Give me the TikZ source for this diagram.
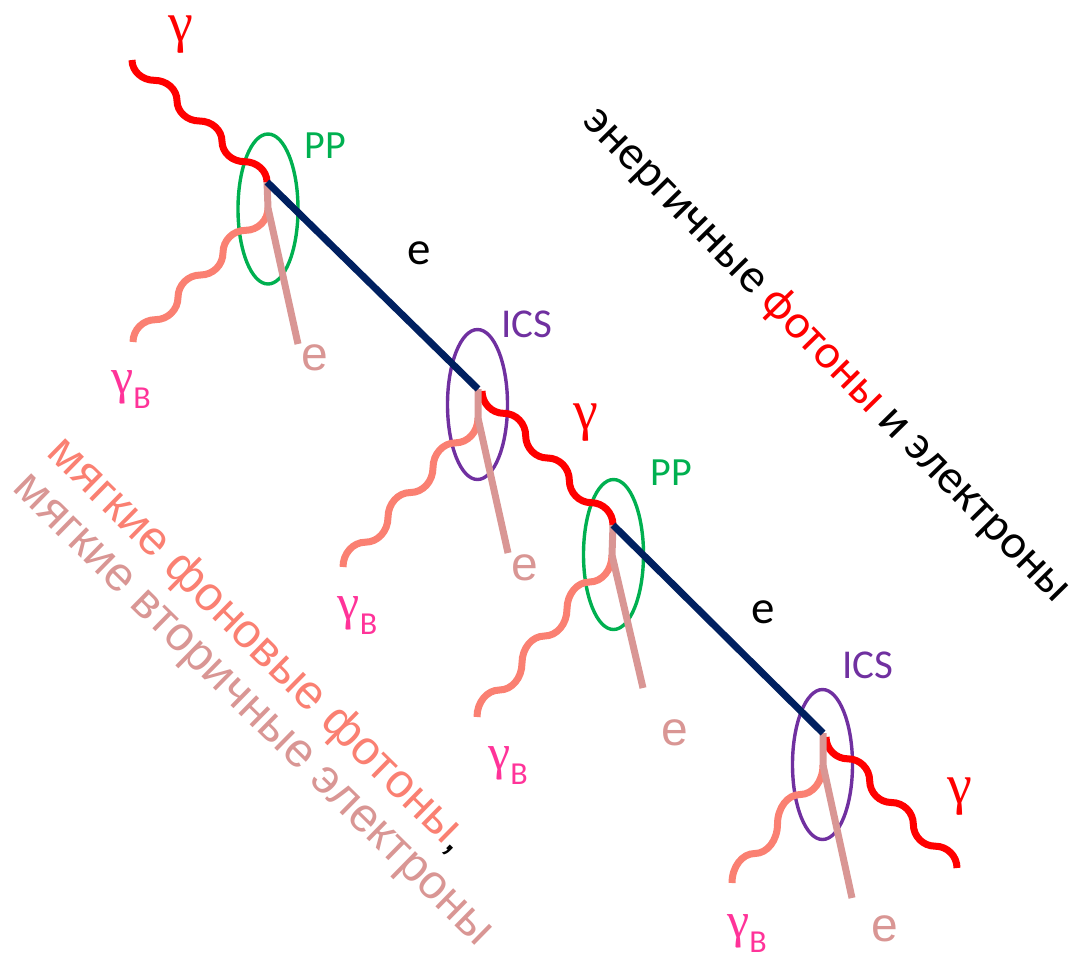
\documentclass[tikz,border=0pt]{standalone}
\usepackage{fontspec}
\setmainfont{Carlito}
\newfontfamily\arialf{Liberation Sans}
\newfontfamily\greekf{Liberation Serif}
\usetikzlibrary{shapes.geometric,calc}
\definecolor{cred}{HTML}{FF0000}
\definecolor{csalmon}{HTML}{FA8072}
\definecolor{cpinke}{HTML}{D99694}
\definecolor{cnavy}{HTML}{002060}
\definecolor{cgreen}{HTML}{00B050}
\definecolor{cpurple}{HTML}{7030A0}
\definecolor{cmag}{HTML}{FF3399}
\newcommand\wavy[4]{%
  \draw[#1] let \p1=(#2), \p2=(#3), \n1={(\x2-\x1)/(2*#4)}, \n2={(\y2-\y1)/(2*#4)} in (#2)
   \foreach \k in {1,...,#4}{ .. controls +(0pt,{0.552*(\n2)}) and +({-0.552*(\n1)},0pt) .. ++(\n1,\n2)
      .. controls +({0.552*(\n1)},0pt) and +(0pt,{-0.552*(\n2)}) .. ++(\n1,\n2) };%
}
\newcommand\gB{{\greekf\fontsize{50}{52}\selectfont γ}\raisebox{-15pt}{\fontsize{32}{34}\selectfont B}}
\begin{document}
\begin{tikzpicture}[x=1pt,y=-1pt,
  electron/.style={cnavy,line width=7pt},
  hardphoton/.style={cred,line width=7pt},
  softphoton/.style={csalmon,line width=7pt},
  secelectron/.style={cpinke,line width=7pt},
  ring/.style={ellipse,line width=3.4pt,minimum width=60pt,minimum height=150pt,inner sep=0pt},
  ppring/.style={ring,draw=cgreen},
  icsring/.style={ring,draw=cpurple},
  gammalbl/.style={text=cred,font=\greekf\fontsize{56}{60}\selectfont,inner sep=0pt},
  pplbl/.style={text=cgreen,font=\fontsize{40}{44}\selectfont,inner sep=0pt},
  icslbl/.style={text=cpurple,font=\fontsize{41}{44}\selectfont,inner sep=0pt},
  elbl/.style={text=black,font=\fontsize{47}{50}\selectfont,inner sep=0pt},
  selbl/.style={text=cpinke,font=\arialf\fontsize{48}{50}\selectfont,inner sep=0pt},
  gblbl/.style={text=cmag,inner sep=0pt},
]
\path[use as bounding box] (0,0) rectangle (1076,962);

% interaction regions
\node[ppring]  (ring1) at (268,209) {};
\node[icsring] (ring2) at (477.5,404.5) {};
\node[ppring]  (ring3) at (613.5,554.5) {};
\node[icsring] (ring4) at (822.5,764.5) {};

% coordinates
\coordinate (G0) at (132,60);
\coordinate (V1) at (267,182);
\coordinate (J1) at (268,208);
\coordinate (E1) at (298,344);
\coordinate (B1) at (133,342);
\coordinate (V2) at (478,389);
\coordinate (R2) at (482,391);
\coordinate (J2) at (478,418);
\coordinate (E2) at (508,553);
\coordinate (B2) at (343,567);
\coordinate (V3) at (613,525);
\coordinate (J3) at (612,555);
\coordinate (E3) at (643,688);
\coordinate (B3) at (477,717);
\coordinate (V4) at (823,733);
\coordinate (R4) at (826,737);
\coordinate (J4) at (823,765);
\coordinate (E4) at (852,898);
\coordinate (B4) at (732,883);
\coordinate (G4) at (957,868);

% photons
\wavy{hardphoton}{G0}{V1}{3}
\wavy{hardphoton}{R2}{V3}{3}
\wavy{hardphoton}{R4}{G4}{3}
\wavy{softphoton}{J1}{B1}{3}
\wavy{softphoton}{J2}{B2}{3}
\wavy{softphoton}{J3}{B3}{3}
\wavy{softphoton}{J4}{B4}{2}

% secondary electrons
\draw[secelectron] (V1) -- (J1) -- (E1);
\draw[secelectron] (V2) -- (J2) -- (E2);
\draw[secelectron] (V3) -- (J3) -- (E3);
\draw[secelectron] (V4) -- (J4) -- (E4);

% energetic electrons
\draw[electron] (V1) -- (V2);
\draw[electron] (V3) -- (V4);

% labels
\node[gammalbl] (lg1) at (181,35) {γ};
\node[gammalbl] (lg2) at (586,423) {γ};
\node[gammalbl] (lg3) at (960,797) {γ};
\node[pplbl] (lpp1) at (325,146) {PP};
\node[pplbl] (lpp2) at (671,473) {PP};
\node[icslbl] (lics1) at (527,324) {ICS};
\node[icslbl] (lics2) at (868,665) {ICS};
\node[elbl] (le1) at (419,253) {e};
\node[elbl] (le2) at (763,612) {e};
\node[selbl] (lse1) at (315,358) {e};
\node[selbl] (lse2) at (525,568) {e};
\node[selbl] (lse3) at (675,733) {e};
\node[selbl] (lse4) at (885,929) {e};
\node[gblbl] (lgb1) at (131,390) {\gB};
\node[gblbl] (lgb2) at (357.5,616) {\gB};
\node[gblbl] (lgb3) at (508,766) {\gB};
\node[gblbl] (lgb4) at (747,934) {\gB};

% rotated captions
\node[rotate=-45.5,font=\fontsize{48}{58}\selectfont,inner sep=0pt] (hard) at (827,355)
  {энергичные \textcolor{cred}{фотоны} и электроны};
\node[rotate=-44.5,text=csalmon,font=\arialf\fontsize{48}{52}\selectfont,inner sep=0pt] (soft1) at (258,646)
  {мягкие фоновые фотоны\textcolor{black}{,}};
\node[rotate=-44.5,text=cpinke,font=\arialf\fontsize{48}{52}\selectfont,inner sep=0pt] (soft2) at (250,713)
  {мягкие вторичные электроны};
\end{tikzpicture}
\end{document}
